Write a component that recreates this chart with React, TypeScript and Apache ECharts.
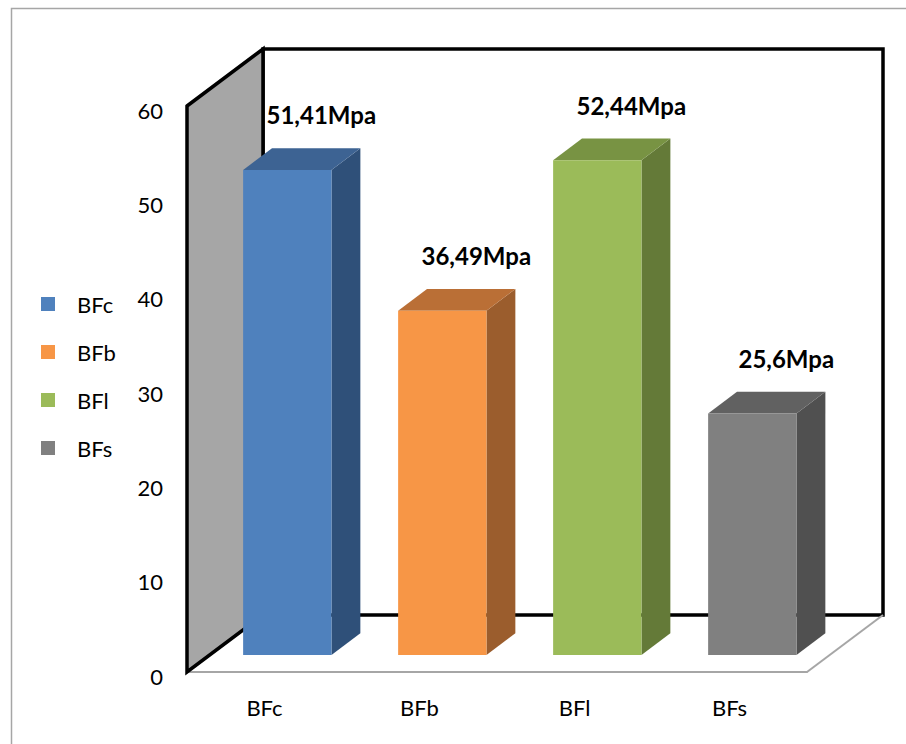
import React, { useEffect, useRef } from "react";
import * as echarts from "echarts";

// Compressive strength per mix
const categories = ["BFc", "BFb", "BFl", "BFs"];
const values = [51.41, 36.49, 52.44, 25.6];
const unit = "Mpa";

// Axis range
const yMin = 0;
const yMax = 60;
const yInterval = 10;

// Face shades of each box: front, top, side
const frontColors = ["#4f81bd", "#f79646", "#9bbb59", "#808080"];
const topColors = ["#3d6393", "#ba6f36", "#789343", "#616161"];
const sideColors = ["#2f5079", "#9b5d2d", "#647a38", "#505050"];

const FONT = "Lato";

// Oblique projection of the depth axis (pixels from front plane to back wall)
const DEPTH_X = 76;
const DEPTH_Y = -57;
// Bars sit between these fractions of the depth
const BAR_FRONT = 0.3;
const BAR_DEPTH = 0.38;
const BAR_WIDTH_RATIO = 0.57;

const formatValue = (v: number) => String(v).replace(".", ",") + unit;

// Back wall, side wall and floor edge of the 3D box
function renderFrame(params: any) {
  const cs = params.coordSys;
  const x0 = cs.x;
  const y0 = cs.y;
  const w = cs.width;
  const h = cs.height;
  const x1 = x0 + w;
  const y1 = y0 + h;
  return {
    type: "group",
    children: [
      {
        type: "rect",
        shape: { x: x0 + DEPTH_X, y: y0 + DEPTH_Y, width: w, height: h },
        style: { fill: "#ffffff", stroke: "#000000", lineWidth: 3.5 },
      },
      {
        type: "polygon",
        shape: {
          points: [
            [x0, y0],
            [x0 + DEPTH_X, y0 + DEPTH_Y],
            [x0 + DEPTH_X, y1 + DEPTH_Y],
            [x0, y1],
          ],
        },
        style: { fill: "#a6a6a6", stroke: "#000000", lineWidth: 3.5, lineJoin: "miter" },
      },
      {
        type: "line",
        shape: { x1: x1, y1: y1, x2: x1 + DEPTH_X, y2: y1 + DEPTH_Y },
        style: { stroke: "#a6a6a6", lineWidth: 2 },
      },
    ],
  };
}

// One 3D column with its value label
function renderBar(params: any, api: any) {
  const cat = api.value(0);
  const val = api.value(1);
  const base = api.coord([cat, 0]);
  const top = api.coord([cat, val]);
  const band = api.size([1, 0])[0];
  const bw = band * BAR_WIDTH_RATIO;
  const ox = DEPTH_X * BAR_FRONT;
  const oy = DEPTH_Y * BAR_FRONT;
  const dx = DEPTH_X * BAR_DEPTH;
  const dy = DEPTH_Y * BAR_DEPTH;
  const L = base[0] + ox - bw / 2;
  const R = L + bw;
  const B = base[1] + oy;
  const T = top[1] + oy;
  return {
    type: "group",
    children: [
      {
        type: "polygon",
        shape: { points: [[R, T], [R + dx, T + dy], [R + dx, B + dy], [R, B]] },
        style: { fill: sideColors[cat] },
      },
      {
        type: "polygon",
        shape: { points: [[L, T], [L + dx, T + dy], [R + dx, T + dy], [R, T]] },
        style: { fill: topColors[cat] },
      },
      {
        type: "rect",
        shape: { x: L, y: T, width: bw, height: B - T },
        style: { fill: frontColors[cat] },
      },
      {
        type: "text",
        x: L + bw / 2 + 34,
        y: T - 55,
        style: {
          text: formatValue(val),
          fontFamily: FONT,
          fontWeight: "bold",
          fontSize: 24,
          fill: "#000000",
          align: "center",
          verticalAlign: "middle",
        },
      },
    ],
  };
}

export default function App() {
  const ref = useRef<HTMLDivElement>(null);

  useEffect(() => {
    document.body.style.margin = "0";
    const chart = echarts.init(ref.current!, null, { renderer: "svg" });
    chart.setOption({
      animation: false,
      backgroundColor: "#ffffff",
      grid: { left: 187, right: 99, top: 106, bottom: 72, outerBoundsMode: "none" },
      legend: {
        orient: "vertical",
        left: 41,
        top: 293,
        padding: 0,
        itemWidth: 14,
        itemHeight: 14,
        itemGap: 26,
        icon: "rect",
        selectedMode: false,
        textStyle: {
          fontFamily: FONT,
          fontSize: 22,
          lineHeight: 22,
          color: "#000000",
          padding: [0, 0, 0, 17],
        },
        data: categories.map((c, i) => ({ name: c, itemStyle: { color: frontColors[i] } })),
      },
      graphic: [
        {
          type: "rect",
          silent: true,
          z: -10,
          shape: { x: 11.5, y: 8.5, width: 1000, height: 1000 },
          style: { fill: "none", stroke: "#a6a6a6", lineWidth: 1.5 },
        },
      ],
      xAxis: {
        type: "category",
        data: categories,
        axisLine: { lineStyle: { color: "#a6a6a6", width: 2 } },
        axisTick: { show: false },
        axisLabel: { fontFamily: FONT, fontSize: 22, color: "#000000", margin: 24 },
      },
      yAxis: {
        type: "value",
        min: yMin,
        max: yMax,
        interval: yInterval,
        axisLine: { show: false },
        axisTick: { show: false },
        splitLine: { show: false },
        axisLabel: {
          fontFamily: FONT,
          fontSize: 22,
          color: "#000000",
          margin: 24,
          verticalAlign: "top",
          lineHeight: 8,
        },
      },
      series: [
        {
          type: "custom",
          name: "frame",
          silent: true,
          clip: false,
          z: 1,
          renderItem: renderFrame,
          data: [[0, 0]],
        },
        ...categories.map((c, i) => ({
          type: "custom",
          name: c,
          clip: false,
          z: 2,
          itemStyle: { color: frontColors[i] },
          renderItem: renderBar,
          data: [[i, values[i]]],
        })),
      ],
    });
    return () => chart.dispose();
  }, []);

  return <div ref={ref} style={{ width: 906, height: 744 }} />;
}
